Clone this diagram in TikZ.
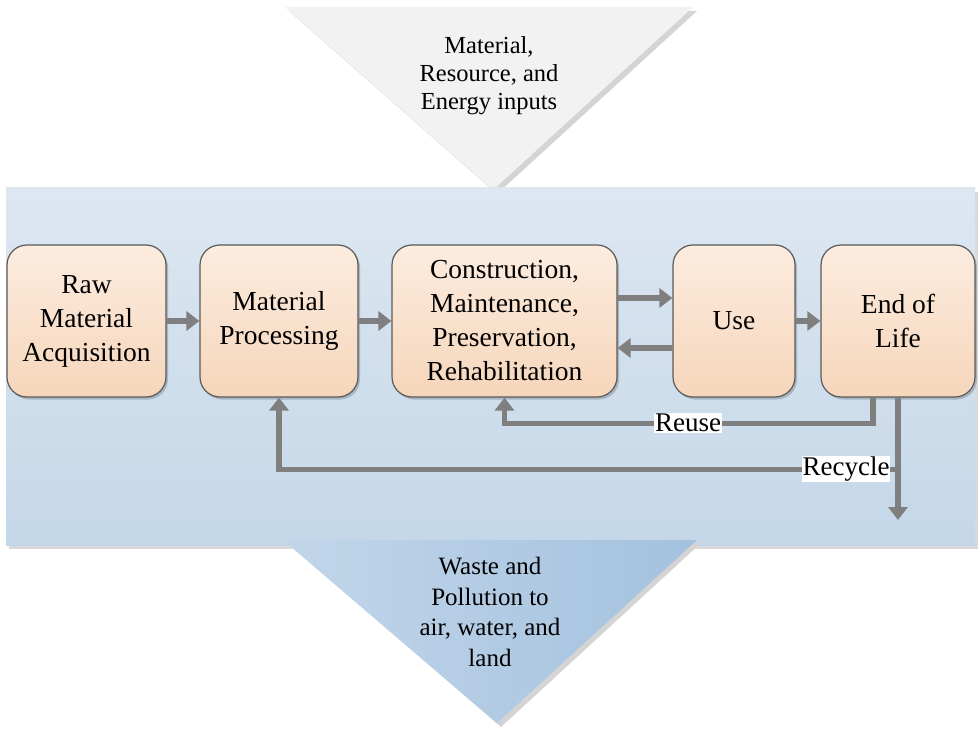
\documentclass[tikz,border=0pt]{standalone}
\usepackage{fontspec}
\newfontfamily\serifface{Liberation Serif}
\usetikzlibrary{arrows.meta,calc}

\definecolor{inputfill}{HTML}{F2F2F2}
\definecolor{inputshadow}{HTML}{D4D4D4}
\definecolor{bandtop}{HTML}{DDE7F1}
\definecolor{bandbottom}{HTML}{C4D7E8}
\definecolor{wasteleft}{HTML}{C2D6EA}
\definecolor{wasteright}{HTML}{A3C1DE}
\definecolor{boxtop}{HTML}{FCECDF}
\definecolor{boxbottom}{HTML}{F6D6BB}
\definecolor{boxline}{HTML}{5A5A5A}
\definecolor{boxshade}{HTML}{A9B6C2}
\definecolor{arrowgray}{HTML}{7F7F7F}

\tikzset{
  stage/.style={rounded corners=20pt, draw=boxline, line width=1.2pt,
    preaction={fill=boxshade, transform canvas={shift={(2pt,-2.5pt)}}},
    top color=boxtop, bottom color=boxbottom,
    minimum height=152pt, align=center, inner sep=2pt,
    font=\fontsize{27.5}{34}\selectfont},
  flow/.style={draw=arrowgray, line width=5.5pt,
    -{Triangle[width=19pt,length=13pt]}},
  tag/.style={fill=white, inner sep=1pt,
    font=\fontsize{27}{30}\selectfont},
}

\begin{document}
\serifface
\begin{tikzpicture}[x=1pt,y=-1pt]
  \useasboundingbox (0,0) rectangle (978,733);

  % inputs funnel at the top
  \fill[inputshadow] (289,11) -- (697,11) -- (497,194) -- cycle;
  \fill[inputfill] (285,7) -- (693,7) -- (493,190) -- cycle;
  \node[align=center, font=\fontsize{24.5}{28}\selectfont]
    (inputs) at (489,76) {Material,\\Resource, and\\Energy inputs};

  % life-cycle band
  \fill[black!15] (9,192) rectangle (978,549);
  \shade[top color=bandtop, bottom color=bandbottom] (6,188) rectangle (975,545);

  % waste funnel at the bottom
  \fill[inputshadow] (287,543) -- (701,543) -- (501,727) -- cycle;
  \shade[left color=wasteleft, right color=wasteright]
    (283,540) -- (697,540) -- (497,723) -- cycle;
  \node[align=center, font=\fontsize{25}{30.5}\selectfont]
    (waste) at (490,612) {Waste and\\Pollution to\\air, water, and\\land};

  % stages
  \node[stage, minimum width=159pt] (raw)  at (86.5,321) {Raw\\Material\\Acquisition};
  \node[stage, minimum width=158pt] (proc) at (279,321)  {Material\\Processing};
  \node[stage, minimum width=225pt] (cons) at (504.5,321)
    {Construction,\\Maintenance,\\Preservation,\\Rehabilitation};
  \node[stage, minimum width=122pt] (use)  at (734,321)  {Use};
  \node[stage, minimum width=154pt] (eol)  at (898,321)  {End of\\Life};

  % forward flow
  \draw[flow] (raw.east) -- (proc.west);
  \draw[flow] (proc.east) -- (cons.west);
  \draw[flow] ([yshift=23pt]cons.east) -- ([yshift=23pt]use.west);
  \draw[flow] ([yshift=-27pt]use.west) -- ([yshift=-27pt]cons.east);
  \draw[flow] (use.east) -- (eol.west);

  % reuse loop
  \draw[flow] ([xshift=-25pt]eol.south) -- ++(0,26) -| (cons.south);
  \node[tag] (reuse) at (688,423) {Reuse};

  % recycle loop and disposal
  \coordinate (disposal) at (898,520);
  \draw[flow] (eol.south) -- (disposal);
  \draw[flow] ($(eol.south)+(0,72)$) -| (proc.south);
  \node[tag] (recycle) at (846,469) {Recycle};
\end{tikzpicture}
\end{document}
